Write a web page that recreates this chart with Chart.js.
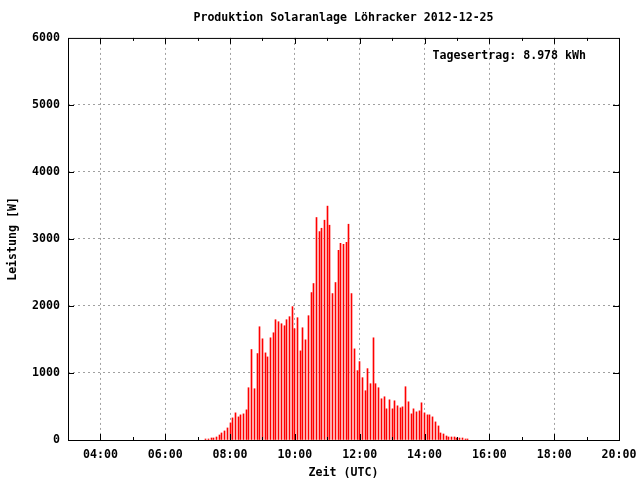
<!DOCTYPE html>
<html><head><meta charset="utf-8">
<script src="https://cdn.jsdelivr.net/npm/chart.js@4/dist/chart.umd.min.js"></script>
<style>html,body{margin:0;padding:0;background:#fff}canvas{display:block}</style>
</head><body>
<canvas id="c" width="640" height="480"></canvas>
<script>
const chartTitle = "Produktion Solaranlage Löhracker 2012-12-25";
const yieldLabel = "Tagesertrag: 8.978 kWh";
const xTitle = "Zeit (UTC)";
const yTitle = "Leistung [W]";

const times = [
  "07:15","07:20","07:25","07:30","07:35","07:40","07:45","07:50","07:55","08:00",
  "08:05","08:10","08:15","08:20","08:25","08:30","08:35","08:40","08:45","08:50",
  "08:55","09:00","09:05","09:10","09:15","09:20","09:25","09:30","09:35","09:40",
  "09:45","09:50","09:55","10:00","10:05","10:10","10:15","10:20","10:25","10:30",
  "10:35","10:40","10:45","10:50","10:55","11:00","11:05","11:10","11:15","11:20",
  "11:25","11:30","11:35","11:40","11:45","11:50","11:55","12:00","12:05","12:10",
  "12:15","12:20","12:25","12:30","12:35","12:40","12:45","12:50","12:55","13:00",
  "13:05","13:10","13:15","13:20","13:25","13:30","13:35","13:40","13:45","13:50",
  "13:55","14:00","14:05","14:10","14:15","14:20","14:25","14:30","14:35","14:40",
  "14:45","14:50","14:55","15:00","15:05","15:10","15:15","15:20"
];
const watts = [
  15,15,30,30,45,75,105,135,180,255,
  330,405,345,375,390,450,780,1350,765,1290,
  1690,1510,1300,1240,1525,1600,1795,1765,1735,1705,
  1795,1840,1990,1660,1825,1330,1675,1495,1855,2200,
  2335,3320,3110,3160,3280,3490,3205,2185,2350,2830,
  2935,2920,2950,3220,2185,1360,1035,1170,930,735,
  1065,840,1525,840,780,615,645,465,600,465,
  585,510,480,495,795,570,390,465,420,435,
  555,405,375,375,345,270,210,105,90,60,
  45,45,45,30,30,30,15,15
];
const xTickLabels = {4:"04:00",6:"06:00",8:"08:00",10:"10:00",12:"12:00",14:"14:00",16:"16:00",18:"18:00",20:"20:00"};
const xMin = 3, xMax = 20;
const yMin = 0, yMax = 6000, yStep = 1000;

const FONT = "'DejaVu Sans Mono', monospace";
const font = {family: FONT, size: 11.6, weight: 'bold'};
const GRID = '#a0a0a0';

function toHours(t){ const [h,m] = t.split(':').map(Number); return h + m/60; }
const points = times.map((t,i) => ({x: toHours(t), y: watts[i]}));

const bgPlugin = {
  id: 'bg',
  beforeDraw(chart){
    const c = chart.ctx; c.save(); c.fillStyle = '#fff';
    c.fillRect(0,0,chart.width,chart.height); c.restore();
  }
};
// snap the 1px impulse bars onto whole pixels so they stay crisp
const snapPlugin = {
  id: 'snap',
  afterDatasetsUpdate(chart){
    chart.getDatasetMeta(0).data.forEach(el => { el.x = Math.floor(el.x) + 0.5; });
  }
};
const framePlugin = {
  id: 'frame',
  afterDatasetsDraw(chart){
    const {ctx, chartArea:{left,right,top,bottom}, scales:{x,y}} = chart;
    ctx.save();
    ctx.strokeStyle = '#000'; ctx.lineWidth = 1; ctx.setLineDash([]);
    ctx.beginPath();
    x.ticks.forEach(t => {
      if (t.value <= xMin || t.value >= xMax) return;
      const px = Math.round(x.getPixelForValue(t.value)) + 0.5;
      const len = (t.value % 2 === 0) ? 6 : 3;
      ctx.moveTo(px, bottom); ctx.lineTo(px, bottom - len);
      ctx.moveTo(px, top); ctx.lineTo(px, top + len);
    });
    y.ticks.forEach(t => {
      if (t.value <= yMin || t.value >= yMax) return;
      const py = Math.round(y.getPixelForValue(t.value)) + 0.5;
      ctx.moveTo(left, py); ctx.lineTo(left + 6, py);
      ctx.moveTo(right, py); ctx.lineTo(right - 6, py);
    });
    ctx.stroke();
    ctx.strokeRect(left + 0.5, top + 0.5, right - left, bottom - top);
    ctx.restore();
  },
  afterDraw(chart){
    const {ctx, chartArea:{right,top}} = chart;
    ctx.save();
    ctx.fillStyle = '#000';
    ctx.font = `bold ${font.size}px ${FONT}`;
    ctx.textAlign = 'right'; ctx.textBaseline = 'middle';
    ctx.fillText(yieldLabel, right - 33, top + 18);
    ctx.restore();
  }
};

new Chart(document.getElementById('c'), {
  type: 'bar',
  data: { datasets: [{ data: points, backgroundColor: '#ff0000', borderWidth: 0, barThickness: 1 }] },
  options: {
    responsive: false, animation: false, devicePixelRatio: 1,
    layout: { padding: { left: 0, right: 21, top: 0, bottom: 0 } },
    plugins: {
      legend: { display: false }, tooltip: { enabled: false },
      title: { display: true, text: chartTitle, fullSize: false, color: '#000', font: font,
               padding: { top: 11, bottom: 13 } }
    },
    scales: {
      x: {
        type: 'linear', min: xMin, max: xMax, offset: false,
        afterFit: s => { s.height = 40; s.paddingLeft = 0; s.paddingRight = 0; },
        ticks: { stepSize: 1, autoSkip: false, maxRotation: 0, minRotation: 0, padding: 8,
                 color: '#000', font: font,
                 callback: v => xTickLabels[v] || '' },
        grid: { drawTicks: false, offset: false, lineWidth: 1,
                color: c => (c.tick && c.tick.value % 2 === 0 && c.tick.value > xMin && c.tick.value < xMax) ? GRID : 'rgba(0,0,0,0)' },
        border: { display: false, dash: [2,3] },
        title: { display: true, text: xTitle, color: '#000', font: font, padding: { top: 0, bottom: 0 } }
      },
      y: {
        min: yMin, max: yMax,
        afterFit: s => { s.width = 68; },
        ticks: { stepSize: yStep, padding: 8, color: '#000', font: font, callback: v => String(v) },
        grid: { drawTicks: false, lineWidth: 1,
                color: c => (c.tick && c.tick.value > yMin && c.tick.value < yMax) ? GRID : 'rgba(0,0,0,0)' },
        border: { display: false, dash: [2,3] },
        title: { display: true, text: yTitle, color: '#000', font: font, padding: { top: 6, bottom: 0 } }
      }
    }
  },
  plugins: [bgPlugin, snapPlugin, framePlugin]
});
</script>
</body></html>
